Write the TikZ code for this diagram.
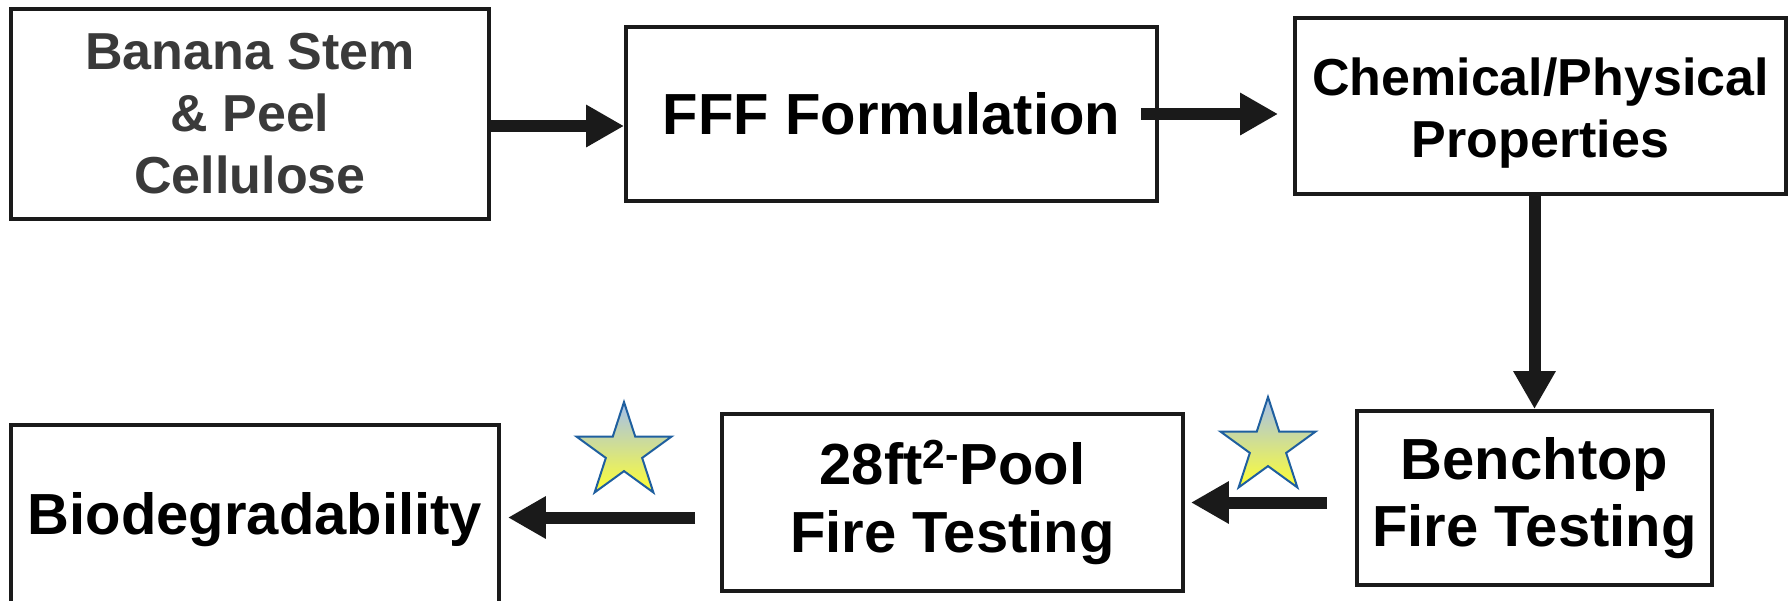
\documentclass[tikz,border=0pt]{standalone}
\usepackage{fontspec}
\setmainfont{Liberation Sans}
\usetikzlibrary{arrows.meta,shapes.geometric}

\definecolor{inkgray}{HTML}{3A3A3A}
\definecolor{arrowblack}{HTML}{1A1A1A}
\definecolor{starblue}{HTML}{1F5F9F}
\definecolor{startop}{HTML}{A4BFEE}
\definecolor{starbottom}{HTML}{FFFF33}

\begin{document}
\begin{tikzpicture}[x=0.02cm, y=-0.02cm,
    box/.style={draw=arrowblack, line width=0.08cm, fill=white, align=center, inner sep=0pt,
        font=\bfseries\fontsize{33}{38.5}\selectfont},
    smallbox/.style={box, font=\bfseries\fontsize{29.6}{35.3}\selectfont},
    flow/.style={-{Triangle[width=0.8cm,length=0.76cm]}, line width=0.24cm, color=arrowblack},
    prize/.style={star, star points=5, star point ratio=2.618, minimum size=2cm, inner sep=0pt,
        draw=starblue, line width=0.04cm, top color=startop, bottom color=starbottom}]
    \useasboundingbox (0,0) rectangle (1792,600);
    \clip (0,0) rectangle (1792,600);

    % top row
    \node[smallbox, text=inkgray, minimum width=9.56cm, minimum height=4.2cm] (a) at (250,114)
        {Banana Stem\\ \& Peel\\ Cellulose};
    \node[box, minimum width=10.62cm, minimum height=3.48cm] (b) at (891.5,114) {FFF Formulation};
    \node[smallbox, minimum width=9.82cm, minimum height=3.52cm] (c) at (1540.5,106)
        {\\[-0.2cm]Chemical/Physical\\ Properties};

    % bottom row
    \node[box, minimum width=7.1cm, minimum height=3.48cm] (d) at (1534.5,498) {Benchtop\\ Fire Testing};
    \node[box, minimum width=9.22cm, minimum height=3.54cm] (e) at (952.5,502.5)
        {28ft\textsuperscript{2-}Pool\\ Fire Testing};
    \node[box, minimum width=9.76cm, minimum height=3.8cm] (f) at (255,520) {Biodegradability};

    \node[prize] (s1) at (624,452) {};
    \node[prize] (s2) at (1268,447) {};

    \path[flow]
        ([yshift=-0.24cm]a.east) edge ([yshift=-0.24cm]b.west)
        (b.east) edge[shorten <=-0.36cm, shorten >=0.3cm] (b.east -| c.west)
        (c.south -| d.north) edge (d.north)
        (d.west |- e.east) edge[shorten <=0.56cm, shorten >=0.12cm] (e.east)
        ([yshift=-0.3cm]e.west) edge[shorten <=0.5cm, shorten >=0.14cm] ([yshift=-0.3cm]e.west -| f.east);
\end{tikzpicture}
\end{document}
